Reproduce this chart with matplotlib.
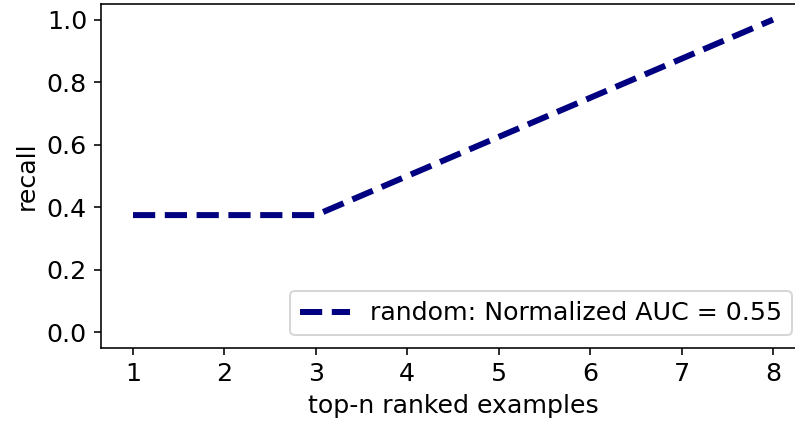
import matplotlib
matplotlib.use('Agg')
import matplotlib.pyplot as plt

# top-n ranked examples vs recall
top_n = [1, 2, 3, 4, 5, 6, 7, 8]
recall = [0.375, 0.375, 0.375, 0.5, 0.625, 0.75, 0.875, 1.0]
label = 'random: Normalized AUC = 0.55'

plt.rcParams['font.size'] = 12.6

fig = plt.figure(figsize=(795 / 144, 428 / 144), dpi=144)
ax = fig.add_axes([101 / 795, (428 - 348) / 428, (805 - 101) / 795, (348 - 4) / 428])

ax.plot(top_n, recall, color='navy', linestyle='--', linewidth=3, label=label)
ax.set_ylim(-0.05, 1.05)
ax.set_xlabel('top-n ranked examples')
ax.set_ylabel('recall')
ax.legend(loc='lower right')

fig.savefig('out.png', dpi=144)
